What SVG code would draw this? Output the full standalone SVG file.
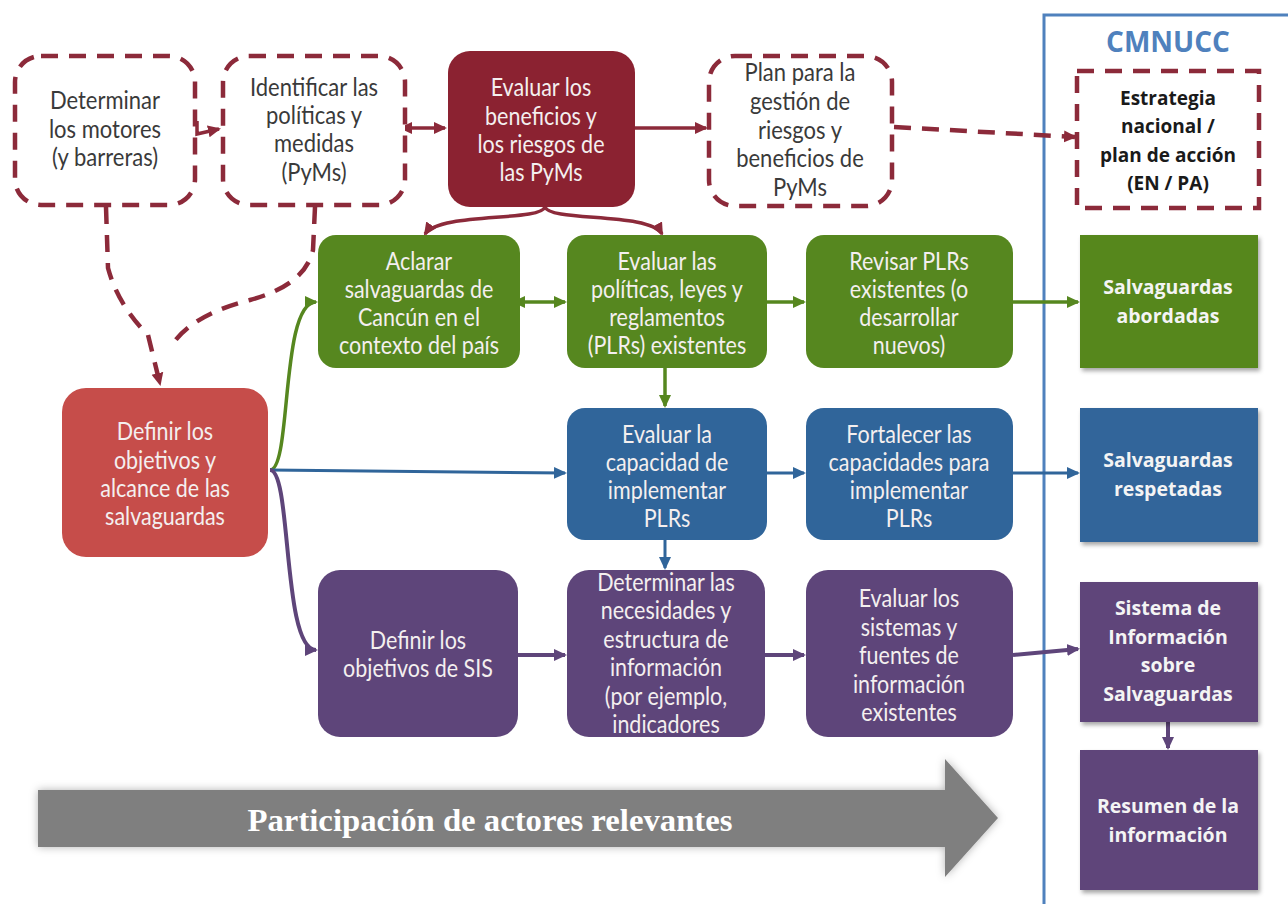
<svg xmlns="http://www.w3.org/2000/svg" width="1288" height="904" viewBox="0 0 1288 904">
<style>
.t,.d{font-family:Lato,"Open Sans",sans-serif;font-size:21.5px;text-anchor:middle;transform-box:fill-box;transform-origin:center;transform:scaleY(1.12)}
.t{fill:#f4efef}
.d{fill:#3a3a3a;font-size:22px}
.b{font-family:"Open Sans",Lato,sans-serif;font-size:19.5px;font-weight:bold;text-anchor:middle;fill:#f4f4f4}
.bd{font-family:"Open Sans",Lato,sans-serif;font-size:19px;font-weight:bold;text-anchor:middle;fill:#1a1a1a}
.dash{fill:#fff;stroke:#8c2a3a;stroke-width:4.5;stroke-dasharray:17 11}
.dl{fill:none;stroke:#8c2a3a;stroke-width:4.5;stroke-dasharray:17 11}
.g{fill:#56871f}.bl{fill:#30659a}.p{fill:#5e457a}
.cg{fill:none;stroke:#56871f;stroke-width:3.5}
.cb{fill:none;stroke:#30659a;stroke-width:3}
.cp{fill:none;stroke:#5e457a;stroke-width:4}
.cr{fill:none;stroke:#8c2a3a;stroke-width:3.5}
</style>
<defs>
<marker id="ar" markerUnits="userSpaceOnUse" markerWidth="14" markerHeight="14" refX="11" refY="7" orient="auto"><path d="M0,1 L13,7 L0,13 z" fill="#8c2a3a"/></marker>
<marker id="ars" markerUnits="userSpaceOnUse" markerWidth="14" markerHeight="14" refX="3" refY="7" orient="auto-start-reverse"><path d="M0,1 L13,7 L0,13 z" fill="#8c2a3a"/></marker>
<marker id="ag" markerUnits="userSpaceOnUse" markerWidth="14" markerHeight="14" refX="11" refY="7" orient="auto"><path d="M0,1 L13,7 L0,13 z" fill="#56871f"/></marker>
<marker id="ags" markerUnits="userSpaceOnUse" markerWidth="14" markerHeight="14" refX="3" refY="7" orient="auto-start-reverse"><path d="M0,1 L13,7 L0,13 z" fill="#56871f"/></marker>
<marker id="ab" markerUnits="userSpaceOnUse" markerWidth="14" markerHeight="14" refX="11" refY="7" orient="auto"><path d="M0,1 L13,7 L0,13 z" fill="#30659a"/></marker>
<marker id="ap" markerUnits="userSpaceOnUse" markerWidth="14" markerHeight="14" refX="11" refY="7" orient="auto"><path d="M0,1 L13,7 L0,13 z" fill="#5e457a"/></marker>
<filter id="sh" x="-10%" y="-10%" width="125%" height="125%"><feDropShadow dx="2" dy="3" stdDeviation="2" flood-color="#000" flood-opacity="0.35"/></filter>
<filter id="sh2" x="-5%" y="-20%" width="115%" height="150%"><feDropShadow dx="0" dy="0" stdDeviation="4" flood-color="#000" flood-opacity="0.3"/></filter>
</defs>
<rect width="1288" height="904" fill="#fff"/>

<g id="cmnucc">
<path d="M1044,904 L1044,15 L1288,15" fill="none" stroke="#4f81bd" stroke-width="3"/>
<text x="1168" y="52" font-family="'Open Sans',Lato,sans-serif" font-size="28" font-weight="bold" fill="#4f81bd" text-anchor="middle">CMNUCC</text>
</g>

<g id="connectors">
<path class="cr" d="M197,121 L197,134 L219,129" marker-end="url(#ar)"/>
<path class="cr" d="M409,128 L445,128" marker-start="url(#ars)" marker-end="url(#ar)"/>
<path class="cr" d="M635,128 L706,128" marker-end="url(#ar)"/>
<path class="dl" d="M894,127 L1075,137" marker-end="url(#ar)"/>
<path class="cr" d="M545,207 C540,222 440,212 425,234" marker-end="url(#ar)"/>
<path class="cr" d="M545,207 C550,222 650,212 662,234" marker-end="url(#ar)"/>
<path class="dl" d="M106,207 L108,268 Q118,305 148,335 L160,384" marker-end="url(#ar)"/>
<path class="dl" d="M315,207 L313,250 Q305,285 250,300 Q190,315 170,348"/>
<path class="cg" d="M270,470 C292,470 280,302 316,302" marker-end="url(#ag)"/>
<path class="cb" d="M270,470 L565,473" marker-end="url(#ab)"/>
<path class="cp" d="M270,470 C292,470 282,650 316,650" marker-end="url(#ap)"/>
<path class="cg" d="M522,302 L565,302" marker-start="url(#ags)" marker-end="url(#ag)"/>
<path class="cg" d="M767,302 L804,302" marker-end="url(#ag)"/>
<path class="cg" d="M1013,302 L1078,302" marker-end="url(#ag)"/>
<path class="cg" d="M665,368 L665,406" marker-end="url(#ag)"/>
<path class="cb" d="M767,473 L804,473" marker-end="url(#ab)"/>
<path class="cb" d="M1013,473 L1078,473" marker-end="url(#ab)"/>
<path class="cb" d="M665,540 L665,568" marker-end="url(#ab)"/>
<path class="cp" d="M518,655 L565,655" marker-end="url(#ap)"/>
<path class="cp" d="M765,655 L804,655" marker-end="url(#ap)"/>
<path class="cp" d="M1013,655 L1078,649" marker-end="url(#ap)"/>
<path class="cp" d="M1168,722 L1168,748" marker-end="url(#ap)"/>
</g>

<g id="n-determinar">
<rect class="dash" x="15" y="56" width="180" height="149" rx="26"/>
<text class="d" x="105" y="108">Determinar</text>
<text class="d" x="105" y="137">los motores</text>
<text class="d" x="105" y="165">(y barreras)</text>
</g>
<g id="n-identificar">
<rect class="dash" x="223" y="56" width="182" height="149" rx="26"/>
<text class="d" x="314" y="95">Identificar las</text>
<text class="d" x="314" y="123">políticas y</text>
<text class="d" x="314" y="151">medidas</text>
<text class="d" x="314" y="180">(PyMs)</text>
</g>
<g id="n-evaluar-beneficios">
<rect x="448" y="51" width="187" height="156" rx="22" fill="#8b2231"/>
<text class="t" x="541" y="95">Evaluar los</text>
<text class="t" x="541" y="124">beneficios y</text>
<text class="t" x="541" y="152">los riesgos de</text>
<text class="t" x="541" y="180">las PyMs</text>
</g>
<g id="n-plan">
<rect class="dash" x="709" y="56" width="183" height="150" rx="26"/>
<text class="d" x="800" y="80">Plan para la</text>
<text class="d" x="800" y="109">gestión de</text>
<text class="d" x="800" y="138">riesgos y</text>
<text class="d" x="800" y="166">beneficios de</text>
<text class="d" x="800" y="195">PyMs</text>
</g>
<g id="n-estrategia">
<rect class="dash" x="1077" y="71" width="182" height="137"/>
<text class="bd" x="1168" y="105">Estrategia</text>
<text class="bd" x="1168" y="133">nacional /</text>
<text class="bd" x="1168" y="162">plan de acción</text>
<text class="bd" x="1168" y="190">(EN / PA)</text>
</g>

<g id="n-aclarar">
<rect class="g" x="318" y="235" width="202" height="133" rx="18"/>
<text class="t" x="419" y="269">Aclarar</text>
<text class="t" x="419" y="297">salvaguardas de</text>
<text class="t" x="419" y="325">Cancún en el</text>
<text class="t" x="419" y="353">contexto del país</text>
</g>
<g id="n-evaluar-politicas">
<rect class="g" x="567" y="235" width="200" height="133" rx="18"/>
<text class="t" x="667" y="269">Evaluar las</text>
<text class="t" x="667" y="297">políticas, leyes y</text>
<text class="t" x="667" y="325">reglamentos</text>
<text class="t" x="667" y="353">(PLRs) existentes</text>
</g>
<g id="n-revisar">
<rect class="g" x="806" y="235" width="207" height="133" rx="18"/>
<text class="t" x="909" y="269">Revisar PLRs</text>
<text class="t" x="909" y="297">existentes (o</text>
<text class="t" x="909" y="325">desarrollar</text>
<text class="t" x="909" y="353">nuevos)</text>
</g>
<g id="n-abordadas">
<rect class="g" x="1080" y="235" width="178" height="133" filter="url(#sh)"/>
<text class="b" x="1168" y="294">Salvaguardas</text>
<text class="b" x="1168" y="323">abordadas</text>
</g>

<g id="n-definir-alcance">
<rect x="62" y="388" width="206" height="169" rx="24" fill="#c64d4a"/>
<text class="t" x="165" y="439">Definir los</text>
<text class="t" x="165" y="468">objetivos y</text>
<text class="t" x="165" y="496">alcance de las</text>
<text class="t" x="165" y="524">salvaguardas</text>
</g>

<g id="n-evaluar-capacidad">
<rect class="bl" x="567" y="408" width="200" height="132" rx="18"/>
<text class="t" x="667" y="442">Evaluar la</text>
<text class="t" x="667" y="470">capacidad de</text>
<text class="t" x="667" y="498">implementar</text>
<text class="t" x="667" y="526">PLRs</text>
</g>
<g id="n-fortalecer">
<rect class="bl" x="806" y="408" width="207" height="132" rx="18"/>
<text class="t" x="909" y="442">Fortalecer las</text>
<text class="t" x="909" y="470">capacidades para</text>
<text class="t" x="909" y="498">implementar</text>
<text class="t" x="909" y="526">PLRs</text>
</g>
<g id="n-respetadas">
<rect class="bl" x="1080" y="408" width="178" height="134" filter="url(#sh)"/>
<text class="b" x="1168" y="467">Salvaguardas</text>
<text class="b" x="1168" y="496">respetadas</text>
</g>

<g id="n-definir-sis">
<rect class="p" x="318" y="570" width="200" height="167" rx="22"/>
<text class="t" x="418" y="648">Definir los</text>
<text class="t" x="418" y="676">objetivos de SIS</text>
</g>
<g id="n-determinar-necesidades">
<rect class="p" x="567" y="570" width="198" height="167" rx="22"/>
<text class="t" x="666" y="590">Determinar las</text>
<text class="t" x="666" y="618">necesidades y</text>
<text class="t" x="666" y="647">estructura de</text>
<text class="t" x="666" y="675">información</text>
<text class="t" x="666" y="704">(por ejemplo,</text>
<text class="t" x="666" y="732">indicadores</text>
</g>
<g id="n-evaluar-sistemas">
<rect class="p" x="806" y="570" width="207" height="167" rx="22"/>
<text class="t" x="909" y="606">Evaluar los</text>
<text class="t" x="909" y="635">sistemas y</text>
<text class="t" x="909" y="663">fuentes de</text>
<text class="t" x="909" y="692">información</text>
<text class="t" x="909" y="720">existentes</text>
</g>
<g id="n-sis">
<rect class="p" x="1080" y="582" width="178" height="140" filter="url(#sh)"/>
<text class="b" x="1168" y="615">Sistema de</text>
<text class="b" x="1168" y="644">Información</text>
<text class="b" x="1168" y="672">sobre</text>
<text class="b" x="1168" y="701">Salvaguardas</text>
</g>
<g id="n-resumen">
<rect class="p" x="1080" y="750" width="178" height="140" filter="url(#sh)"/>
<text class="b" x="1168" y="813">Resumen de la</text>
<text class="b" x="1168" y="842">información</text>
</g>

<g id="n-participacion">
<path d="M38,790 L945,790 L945,759 L998,818 L945,877 L945,847 L38,847 Z" fill="#7f7f7f" filter="url(#sh2)"/>
<text x="490" y="831" font-family="'Liberation Serif',serif" font-size="32" font-weight="bold" fill="#fff" text-anchor="middle" textLength="485" lengthAdjust="spacingAndGlyphs">Participación de actores relevantes</text>
</g>
</svg>
